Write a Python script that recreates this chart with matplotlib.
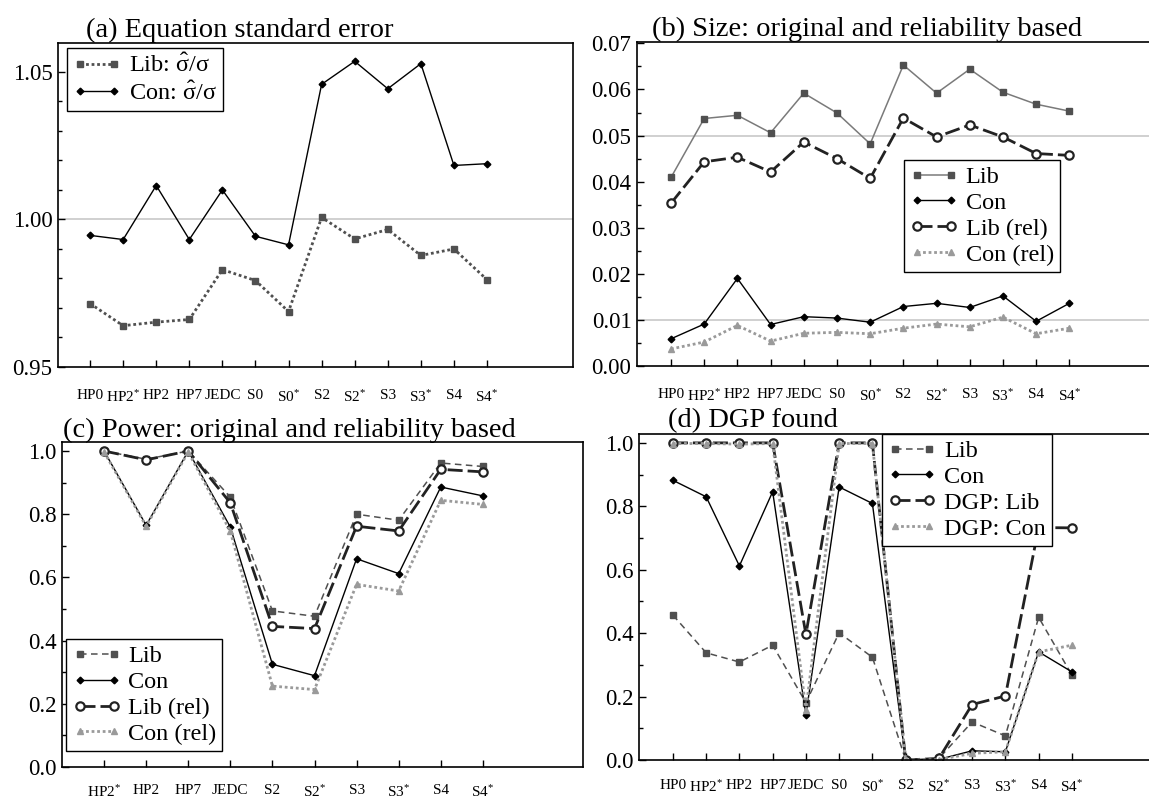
import matplotlib
matplotlib.use('Agg')
import matplotlib.pyplot as plt
from matplotlib.ticker import MultipleLocator, FormatStrFormatter

plt.rcParams['font.family'] = ['Liberation Serif', 'DejaVu Serif']
plt.rcParams['mathtext.fontset'] = 'custom'
plt.rcParams['mathtext.rm'] = 'Liberation Serif'
plt.rcParams['mathtext.it'] = 'Liberation Serif:italic'
plt.rcParams['mathtext.bf'] = 'Liberation Serif:bold'

# ---------------- data ----------------
cats13 = ['HP0', 'HP2*', 'HP2', 'HP7', 'JEDC', 'S0', 'S0*', 'S2', 'S2*', 'S3', 'S3*', 'S4', 'S4*']
cats10 = ['HP2*', 'HP2', 'HP7', 'JEDC', 'S2', 'S2*', 'S3', 'S3*', 'S4', 'S4*']

# (a) Equation standard error
a_lib = [0.9715, 0.9640, 0.9652, 0.9661, 0.9830, 0.9793, 0.9688, 1.0007, 0.9934, 0.9966, 0.9878, 0.9900, 0.9796]
a_con = [0.9946, 0.9932, 1.0115, 0.9932, 1.0100, 0.9943, 0.9914, 1.0458, 1.0536, 1.0443, 1.0528, 1.0183, 1.0189]

# (b) Size
b_lib = [0.0409, 0.0537, 0.0544, 0.0506, 0.0592, 0.0549, 0.0482, 0.0653, 0.0592, 0.0644, 0.0594, 0.0568, 0.0553]
b_con = [0.0059, 0.0091, 0.0190, 0.0090, 0.0107, 0.0104, 0.0095, 0.0129, 0.0136, 0.0127, 0.0152, 0.0097, 0.0136]
b_lib_rel = [0.0353, 0.0443, 0.0453, 0.0421, 0.0486, 0.0450, 0.0407, 0.0538, 0.0497, 0.0523, 0.0497, 0.0461, 0.0457]
b_con_rel = [0.0037, 0.0052, 0.0088, 0.0054, 0.0071, 0.0073, 0.0070, 0.0082, 0.0091, 0.0085, 0.0106, 0.0070, 0.0082]

# (c) Power
c_lib = [1.000, 0.974, 1.000, 0.854, 0.494, 0.477, 0.800, 0.781, 0.962, 0.951]
c_con = [1.000, 0.765, 1.000, 0.759, 0.325, 0.289, 0.659, 0.612, 0.886, 0.858]
c_lib_rel = [1.000, 0.972, 1.000, 0.836, 0.445, 0.438, 0.762, 0.747, 0.942, 0.934]
c_con_rel = [0.997, 0.762, 0.997, 0.746, 0.256, 0.245, 0.578, 0.557, 0.844, 0.831]

# (d) DGP found
d_lib = [0.457, 0.338, 0.309, 0.362, 0.181, 0.401, 0.324, 0.000, 0.005, 0.120, 0.076, 0.450, 0.268]
d_con = [0.882, 0.830, 0.612, 0.846, 0.142, 0.861, 0.809, 0.000, 0.002, 0.029, 0.026, 0.341, 0.278]
d_dgp_lib = [1.000, 1.000, 1.000, 1.000, 0.396, 1.000, 1.000, 0.000, 0.005, 0.175, 0.202, 0.733, 0.732]
d_dgp_con = [0.998, 0.998, 0.996, 0.998, 0.158, 0.998, 0.998, 0.000, 0.001, 0.021, 0.026, 0.341, 0.362]

# ---------------- styles ----------------
W, H = 1149, 799
fig = plt.figure(figsize=(W / 100, H / 100), dpi=100)

def rect(l, r, t, b):
    return [l / W, 1 - b / H, (r - l) / W, (b - t) / H]

def fmt_cat(c):
    return c.replace('*', r'$^{*}$')

sq = dict(marker='s', markersize=5, markerfacecolor='#505050', markeredgecolor='#505050')
dm = dict(marker='D', markersize=3.4, markerfacecolor='black', markeredgecolor='black')
ci = dict(marker='o', markersize=6, markerfacecolor='white', markeredgecolor='#222222', markeredgewidth=1.6)
tr = dict(marker='^', markersize=5, markerfacecolor='#9a9a9a', markeredgecolor='#9a9a9a')

def style_axes(ax, cats, xlim, ylim, major, minor, fmt, xpad=16):
    x = list(range(len(cats)))
    ax.set_xlim(*xlim)
    ax.set_ylim(*ylim)
    ax.set_xticks(x)
    ax.set_xticklabels([fmt_cat(c) for c in cats], fontsize=11)
    ax.yaxis.set_major_locator(MultipleLocator(major))
    ax.yaxis.set_minor_locator(MultipleLocator(minor))
    ax.yaxis.set_major_formatter(FormatStrFormatter(fmt))
    ax.tick_params(axis='x', direction='in', length=5, pad=xpad, width=1)
    ax.tick_params(axis='y', which='major', direction='in', length=5, pad=4,
                   labelsize=16.5, width=1)
    ax.tick_params(axis='y', which='minor', direction='in', length=3, width=1)
    for s in ax.spines.values():
        s.set_linewidth(1.2)
    ax.set_facecolor('white')

def legend(ax, loc, anchor):
    lg = ax.legend(loc=loc, bbox_to_anchor=anchor, fontsize=17.5, frameon=True,
                   fancybox=False, framealpha=1, edgecolor='black', borderaxespad=0,
                   handlelength=2.0, handletextpad=0.3, labelspacing=0.16,
                   borderpad=0.25, numpoints=2)
    lg.get_frame().set_linewidth(1.0)
    return lg

# ---------------- (a) ----------------
axa = fig.add_axes(rect(58, 573, 43, 367))
xa = range(len(cats13))
axa.axhline(1.0, color='#c8c8c8', lw=1.2, zorder=0)
axa.plot(xa, a_lib, color='#505050', lw=2, linestyle=(0, (1, 1)),
         label=r'Lib: $\hat{\mathrm{\sigma}}/\mathrm{\sigma}$', **sq)
axa.plot(xa, a_con, color='black', lw=1, label=r'Con: $\hat{\mathrm{\sigma}}/\mathrm{\sigma}$', **dm)
style_axes(axa, cats13, (-0.97, 14.6), (0.95, 1.0598), 0.05, 0.01, '%.2f')
legend(axa, 'upper left', (0.0175, 0.985))
fig.text(86 / W, 1 - 37 / H, '(a) Equation standard error', fontsize=20.5, va='baseline')

# ---------------- (b) ----------------
axb = fig.add_axes(rect(637, 1155, 42, 366))
xb = range(len(cats13))
axb.axhline(0.05, color='#c8c8c8', lw=1.2, zorder=0)
axb.axhline(0.01, color='#c8c8c8', lw=1.2, zorder=0)
axb.plot(xb, b_lib, color='#7a7a7a', lw=1.1, label='Lib', **sq)
axb.plot(xb, b_con, color='black', lw=1, label='Con', **dm)
axb.plot(xb, b_lib_rel, color='#222222', lw=2, linestyle=(0, (5.4, 1.8)), label='Lib (rel)', **ci)
axb.plot(xb, b_con_rel, color='#9a9a9a', lw=2, linestyle=(0, (1, 1)), label='Con (rel)', **tr)
style_axes(axb, cats13, (-1.024, 14.58), (0.0, 0.0703), 0.01, 0.005, '%.2f')
legend(axb, 'upper left', (0.515, 0.636))
fig.text(652 / W, 1 - 36 / H, '(b) Size: original and reliability based', fontsize=20.5, va='baseline')

# ---------------- (c) ----------------
axc = fig.add_axes(rect(62, 583, 442, 767))
xc = range(len(cats10))
axc.plot(xc, c_lib, color='#505050', lw=1.1, linestyle=(0, (4.3, 2.9)), label='Lib', **sq)
axc.plot(xc, c_con, color='black', lw=1, label='Con', **dm)
axc.plot(xc, c_lib_rel, color='#222222', lw=2, linestyle=(0, (5.4, 1.8)), label='Lib (rel)', **ci)
axc.plot(xc, c_con_rel, color='#9a9a9a', lw=2, linestyle=(0, (1, 1)), label='Con (rel)', **tr)
style_axes(axc, cats10, (-1.0, 11.38), (0.0, 1.0285), 0.2, 0.1, '%.1f', xpad=12)
legend(axc, 'lower left', (0.008, 0.049))
fig.text(63 / W, 1 - 437 / H, '(c) Power: original and reliability based', fontsize=20.5, va='baseline')

# ---------------- (d) ----------------
axd = fig.add_axes(rect(639, 1155, 434, 760))
xd = range(len(cats13))
axd.plot(xd, d_lib, color='#505050', lw=1.1, linestyle=(0, (4.3, 2.9)), label='Lib', **sq)
axd.plot(xd, d_con, color='black', lw=1, label='Con', **dm)
axd.plot(xd, d_dgp_lib, color='#222222', lw=2, linestyle=(0, (5.4, 1.8)), label='DGP: Lib', **ci)
axd.plot(xd, d_dgp_con, color='#9a9a9a', lw=2, linestyle=(0, (1, 1)), label='DGP: Con', **tr)
style_axes(axd, cats13, (-1.02, 14.5), (0.0, 1.028), 0.2, 0.1, '%.1f', xpad=14)
legend(axd, 'upper left', (0.471, 1.0))
fig.text(668 / W, 1 - 427 / H, '(d) DGP found', fontsize=20.5, va='baseline')

fig.savefig('out.png', dpi=100, facecolor='white')
